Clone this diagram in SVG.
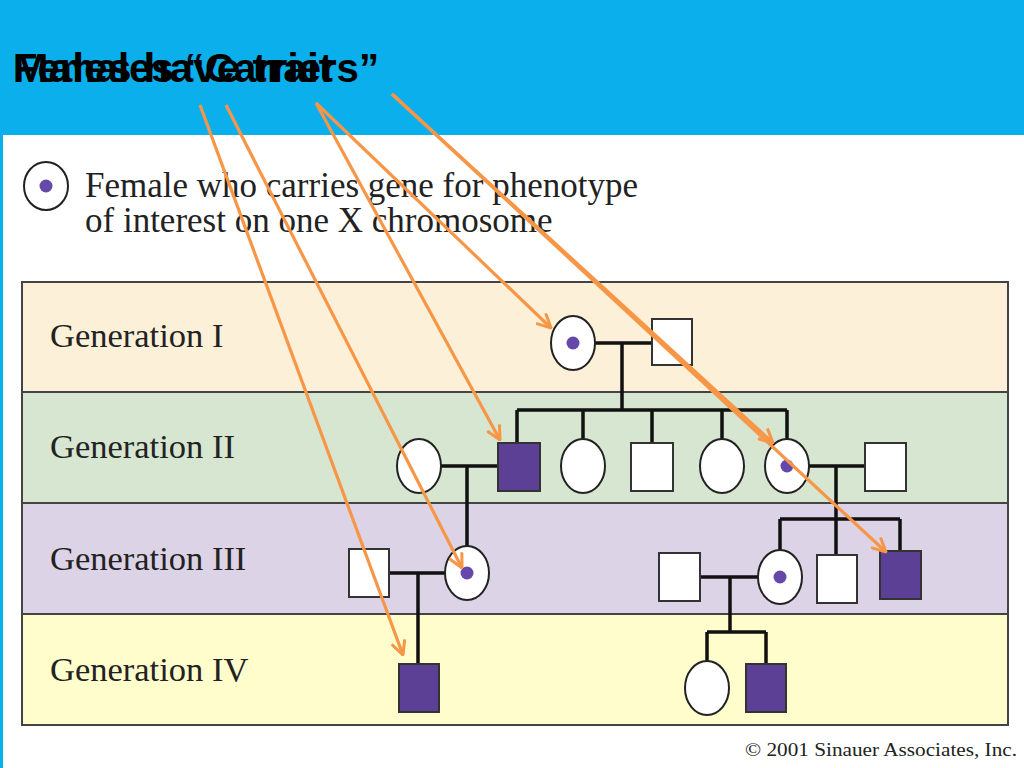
<svg xmlns="http://www.w3.org/2000/svg" width="1024" height="768" viewBox="0 0 1024 768">
<style>
.title{font-family:"Liberation Sans",Arial,sans-serif;font-weight:bold;font-size:40px;fill:#000}
.lab{font-family:"Liberation Serif","Times New Roman",serif;font-size:34.5px;fill:#222}
.leg{font-family:"Liberation Serif","Times New Roman",serif;font-size:35px;fill:#222}
.copy{font-family:"Liberation Serif","Times New Roman",serif;font-size:19px;fill:#222}
.row{stroke:#444;stroke-width:2}
.m{fill:#fff;stroke:#333;stroke-width:2}
.ma{fill:#5c4095;stroke:#333;stroke-width:2}
.f{fill:#fff;stroke:#222;stroke-width:2}
.dot{fill:#6548a8}
.ln{stroke:#111;stroke-width:3.5;fill:none}
.arr{stroke:#f79646;stroke-width:3.2;fill:none;marker-end:url(#ah)}
</style>
<defs>
<marker id="ah" viewBox="0 0 16 16" refX="15" refY="8" markerWidth="16" markerHeight="16" markerUnits="userSpaceOnUse" orient="auto">
<path d="M1,1 L15,8 L1,15" fill="none" stroke="#f79646" stroke-width="3" stroke-linejoin="miter"/>
</marker>
</defs>
<rect x="0" y="0" width="1024" height="768" fill="#fff"/>
<rect x="0" y="0" width="1024" height="135" fill="#0aafeb"/>
<rect x="0" y="135" width="3" height="633" fill="#0aafeb"/>

<g id="title">
<text class="title" x="13" y="82" textLength="366" lengthAdjust="spacingAndGlyphs">Females “Carriers”</text>
<text class="title" x="13" y="82" textLength="320" lengthAdjust="spacingAndGlyphs">Males have trait</text>
</g>

<g id="legend">
<ellipse cx="46" cy="186" rx="22" ry="24" class="f"/>
<circle cx="46" cy="186" r="6.5" class="dot"/>
<text class="leg" x="85" y="197">Female who carries gene for phenotype</text>
<text class="leg" x="85" y="232">of interest on one X chromosome</text>
</g>

<g id="rows">
<rect x="22" y="282" width="986" height="110" fill="#fcf0d8" class="row"/>
<rect x="22" y="392" width="986" height="111" fill="#d6e6d1" class="row"/>
<rect x="22" y="503" width="986" height="111" fill="#ddd3e6" class="row"/>
<rect x="22" y="614" width="986" height="111" fill="#fffdcc" class="row"/>
<text class="lab" x="50" y="347">Generation I</text>
<text class="lab" x="50" y="458">Generation II</text>
<text class="lab" x="50" y="570">Generation III</text>
<text class="lab" x="50" y="681">Generation IV</text>
</g>

<g id="lines">
<path class="ln" d="M595,343 H651 M622,343 V410 M517,410 H787 M517,410 V443 M583,410 V439 M652,410 V443 M722,410 V439 M787,410 V439"/>
<path class="ln" d="M441,466 H498 M467,466 V546 M809,466 H865 M836,466 V555 M780,519 H900 M780,519 V550 M900,519 V551"/>
<path class="ln" d="M389,573 H445 M418,573 V664 M700,577 H758 M730,577 V632 M707,632 H766 M707,632 V661 M766,632 V664"/>
</g>

<g id="gen1">
<g id="g1-f"><ellipse cx="573" cy="343" rx="22" ry="27" class="f"/><circle cx="573" cy="343" r="6.5" class="dot"/></g>
<g id="g1-m"><rect x="652" y="319" width="40" height="46" class="m"/></g>
</g>

<g id="gen2">
<g id="g2-spf"><ellipse cx="419" cy="466" rx="22" ry="27" class="f"/></g>
<g id="g2-am"><rect x="498" y="443" width="42" height="48" class="ma"/></g>
<g id="g2-f1"><ellipse cx="583" cy="466" rx="22" ry="27" class="f"/></g>
<g id="g2-m1"><rect x="631" y="443" width="42" height="48" class="m"/></g>
<g id="g2-f2"><ellipse cx="722" cy="466" rx="22" ry="27" class="f"/></g>
<g id="g2-cf"><ellipse cx="787" cy="466" rx="22" ry="27" class="f"/><circle cx="787" cy="466" r="6.5" class="dot"/></g>
<g id="g2-spm"><rect x="865" y="443" width="41" height="48" class="m"/></g>
</g>

<g id="gen3">
<g id="g3-m1"><rect x="349" y="549" width="40" height="48" class="m"/></g>
<g id="g3-cf1"><ellipse cx="467" cy="573" rx="22" ry="27" class="f"/><circle cx="467" cy="573" r="6.5" class="dot"/></g>
<g id="g3-m2"><rect x="659" y="553" width="41" height="48" class="m"/></g>
<g id="g3-cf2"><ellipse cx="780" cy="577" rx="22" ry="27" class="f"/><circle cx="780" cy="577" r="6.5" class="dot"/></g>
<g id="g3-m3"><rect x="817" y="555" width="40" height="48" class="m"/></g>
<g id="g3-am"><rect x="880" y="551" width="41" height="48" class="ma"/></g>
</g>

<g id="gen4">
<g id="g4-am1"><rect x="399" y="664" width="40" height="48" class="ma"/></g>
<g id="g4-f"><ellipse cx="707" cy="688" rx="22" ry="27" class="f"/></g>
<g id="g4-am2"><rect x="746" y="664" width="40" height="48" class="ma"/></g>
</g>

<text class="copy" x="745" y="756" textLength="272" lengthAdjust="spacingAndGlyphs">© 2001 Sinauer Associates, Inc.</text>

<g id="arrows">
<line class="arr" x1="200" y1="105" x2="403" y2="655"/>
<line class="arr" x1="226" y1="105" x2="462" y2="568"/>
<line class="arr" x1="316" y1="103" x2="500" y2="440"/>
<line class="arr" x1="316" y1="103" x2="551" y2="328"/>
<line class="arr" x1="392" y1="94" x2="773" y2="443"/>
<line class="arr" x1="392" y1="94" x2="886" y2="552"/>
</g>
</svg>
